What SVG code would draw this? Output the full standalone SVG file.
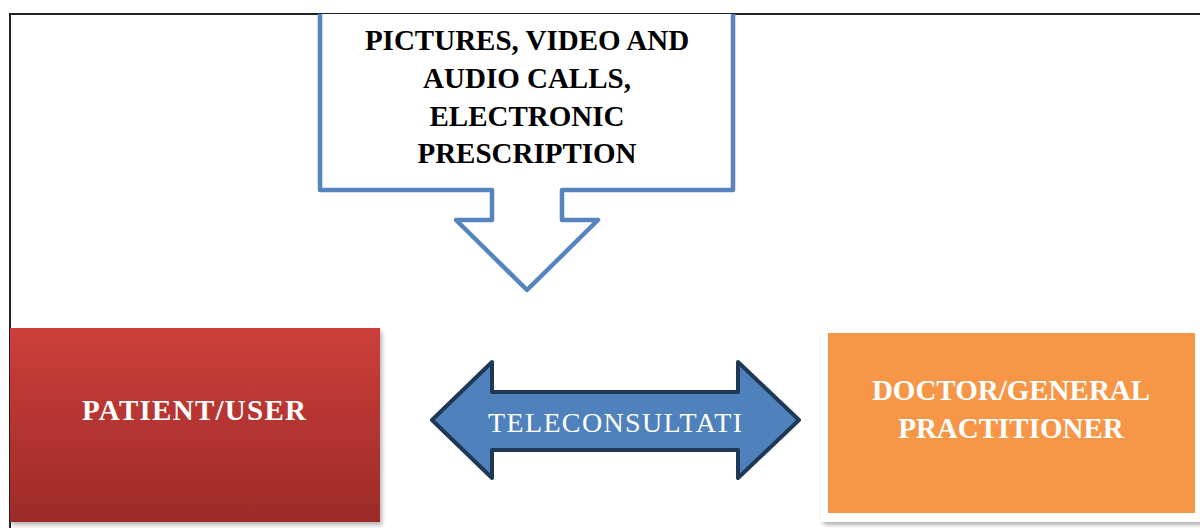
<svg xmlns="http://www.w3.org/2000/svg" width="1200" height="528" viewBox="0 0 1200 528">
<style>
.t{font-family:"Liberation Serif","DejaVu Serif",serif;font-weight:bold;font-size:29px;text-anchor:middle}
.dark{fill:#000}
.light{fill:#fff}
</style>
<defs>
<linearGradient id="red" x1="0" y1="0" x2="0" y2="1">
<stop offset="0" stop-color="#cd3e3a"/>
<stop offset="1" stop-color="#9c2b28"/>
</linearGradient>
<filter id="sh" x="-5%" y="-5%" width="115%" height="115%">
<feDropShadow dx="2" dy="3" stdDeviation="2" flood-color="#000" flood-opacity="0.3"/>
</filter>
</defs>
<rect width="1200" height="528" fill="#fff"/>
<g id="frame" fill="none" stroke="#222" stroke-width="2">
<path d="M1200 14 H10 V528"/>
</g>
<g id="media">
<path d="M320 14 V190 H492 V220 H456 L527 290 L598 220 H562 V190 H733 V14" fill="#fff" stroke="#5584bf" stroke-width="4.5" stroke-linejoin="round"/>
<text class="t dark" x="527" y="50">PICTURES, VIDEO AND</text>
<text class="t dark" x="527" y="88">AUDIO CALLS,</text>
<text class="t dark" x="527" y="126">ELECTRONIC</text>
<text class="t dark" x="527" y="163">PRESCRIPTION</text>
</g>
<g id="connectors">
<path d="M432 420 L492 362 V392 H738 V362 L799 420 L738 478 V450 H492 V478 Z" fill="#4f81bd" stroke="#1e3856" stroke-width="4" stroke-linejoin="round"/>
<text x="615" y="432" font-family="'Liberation Serif','DejaVu Serif',serif" font-size="28" fill="#fff" text-anchor="middle" textLength="254">TELECONSULTATI</text>
</g>
<g id="patient">
<rect x="10" y="328" width="370" height="194" fill="url(#red)" filter="url(#sh)"/>
<text class="t light" x="194" y="420" textLength="224">PATIENT/USER</text>
</g>
<g id="doctor">
<rect x="821" y="326" width="385" height="196" rx="3" fill="#fff" filter="url(#sh)"/>
<rect x="828" y="333" width="367" height="180" fill="#f79646"/>
<text class="t light" x="1011" y="400">DOCTOR/GENERAL</text>
<text class="t light" x="1011" y="438">PRACTITIONER</text>
</g>
</svg>
